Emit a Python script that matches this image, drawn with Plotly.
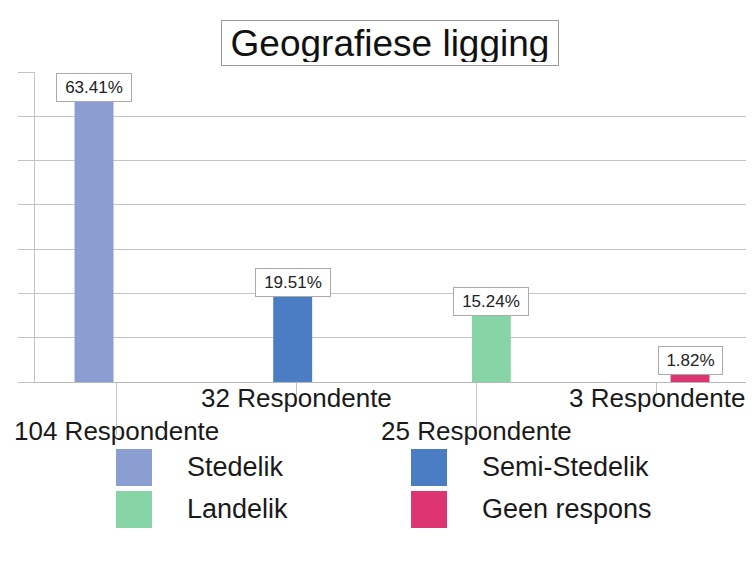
import plotly.graph_objects as go

# data
categories = ['Stedelik', 'Semi-Stedelik', 'Landelik', 'Geen respons']
percent = [63.41, 19.51, 15.24, 1.82]
respondents = [104, 32, 25, 3]
colors = ['#8a9ed2', '#4a7dc4', '#87d5a6', '#dc3570']

W, H = 754, 584
L, R, T, B = 27, 6, 64, 210
PW, PH = W - L - R, H - T - B


def px2x(px):
    return (px - L) / PW


def py2y(py):
    return (H - B - py) / PH


fig = go.Figure()

fig.add_trace(go.Bar(
    x=list(range(len(categories))),
    y=percent,
    width=0.196,
    marker=dict(color=colors, line=dict(width=0)),
    showlegend=False,
    hoverinfo='skip'
))

annotations = []

# boxed data labels on top of the bars
for i, v in enumerate(percent):
    label = f'{v:.2f}%'
    annotations.append(dict(
        x=i, y=v, xref='x', yref='y',
        text=label, showarrow=False,
        yanchor='bottom', yshift=-1,
        width=11 * len(label),
        font=dict(family='Liberation Sans, Arial', size=17, color='#222'),
        bgcolor='white', bordercolor='#aaaaaa', borderwidth=1, borderpad=4
    ))

# staggered category labels
for i, n in enumerate(respondents):
    row_y = 423 if i % 2 == 0 else 390
    annotations.append(dict(
        x=i, y=py2y(row_y), xref='x2', yref='paper',
        text=f'{n} Respondente', showarrow=False,
        xanchor='center', yanchor='middle',
        font=dict(family='Liberation Sans, Arial', size=26, color='#1a1a1a')
    ))

# title in a box
annotations.append(dict(
    x=px2x(382), y=py2y(35), xref='paper', yref='paper',
    text='Geografiese ligging', showarrow=False,
    xanchor='center', yanchor='middle',
    width=330, height=38,
    font=dict(family='Liberation Sans, Arial', size=37, color='#111'),
    bgcolor='white', bordercolor='#9a9a9a', borderwidth=1, borderpad=3
))

# legend: two columns, two rows with large swatches
shapes = []
leg_cols = [108, 403]
leg_rows = [441, 483]
for i, name in enumerate(categories):
    cx = leg_cols[i % 2]
    ry = leg_rows[i // 2]
    shapes.append(dict(
        type='rect', xref='paper', yref='paper',
        x0=px2x(cx), x1=px2x(cx + 36), y0=py2y(ry), y1=py2y(ry + 37),
        fillcolor=colors[i], line=dict(width=0)
    ))
    annotations.append(dict(
        x=px2x(cx + 69), y=py2y(ry + 18), xref='paper', yref='paper',
        text=name, showarrow=False, xanchor='left', yanchor='middle',
        font=dict(family='Liberation Sans, Arial', size=27, color='#1a1a1a')
    ))

fig.update_layout(
    width=W, height=H,
    margin=dict(l=L, r=R, t=T, b=B, pad=0),
    plot_bgcolor='white', paper_bgcolor='white',
    showlegend=False,
    xaxis=dict(
        range=[-0.297, 3.332], showgrid=False, zeroline=False,
        showline=True, linecolor='#b8b8b8', linewidth=1,
        showticklabels=False, ticks=''
    ),
    xaxis2=dict(
        overlaying='x', anchor='y', side='bottom',
        range=[-0.45, 3.55], tickmode='array', tickvals=[0, 2],
        ticks='outside', ticklen=52, tickcolor='#c4c4c4', tickwidth=1,
        minor=dict(tickmode='array', tickvals=[1, 3], ticks='outside',
                   ticklen=12, tickcolor='#c4c4c4', tickwidth=1, showgrid=False),
        showticklabels=False, showgrid=False, zeroline=False, showline=False
    ),
    yaxis=dict(
        range=[0, 70], dtick=10, showgrid=True, gridcolor='#c4c4c4', gridwidth=1,
        zeroline=False, showline=True, linecolor='#c4c4c4', linewidth=1,
        ticks='outside', ticklen=16, tickcolor='#c4c4c4', showticklabels=False
    ),
    annotations=annotations,
    shapes=shapes
)

fig.write_html('out.html')
